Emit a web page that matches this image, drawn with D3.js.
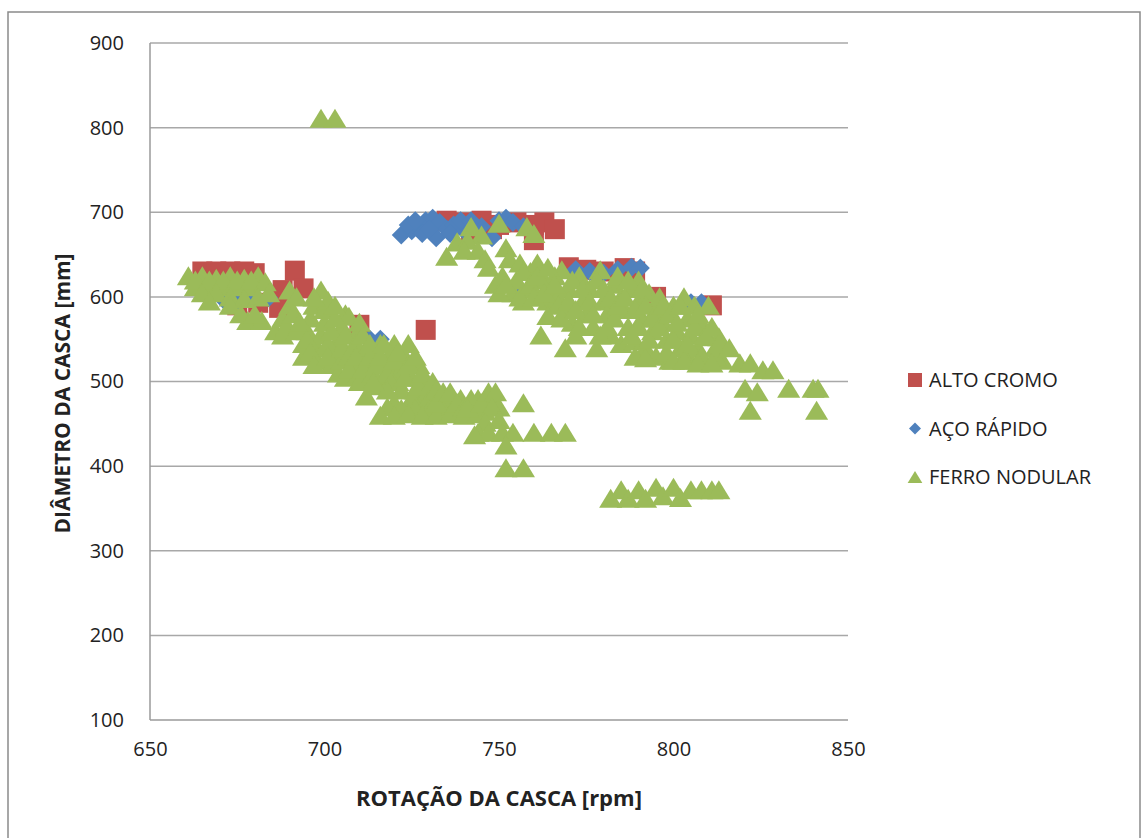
<!DOCTYPE html>
<html>
<head>
<meta charset="utf-8">
<script src="https://cdn.jsdelivr.net/npm/d3@7"></script>
<style>
  body { margin: 0; background: #fff; }
  text { font-family: "Open Sans", Lato, sans-serif; fill: #222; }
</style>
</head>
<body>
<script>
var xTicks = [650, 700, 750, 800, 850];
var yTicks = [100, 200, 300, 400, 500, 600, 700, 800, 900];
var seriesNames = ["ALTO CROMO", "AÇO RÁPIDO", "FERRO NODULAR"];

// [rpm, diametro]
var altoCromo = [
  [665,630],[669,630],[673,630],[677,630],[680,628],[691.5,631],
  [688,608],[694,610],[687,587],[675,590],[681,593],[710,567],[729,561],
  [735,690],[740,688],[745,690],[750,685],[755,688],[760,685],[763,688],[766,680],
  [742,678],[748,680],[760,667],
  [770,635],[775,632],[780,630],[786,634],[789,630],[795,600],[811,590]
];

var acoRapido = [
  [671,597],[675,592],[680,598],[684,599],[713,550],[716,550],
  [722,673],[725,678],[727,683],[729,690],[731,693],[733,688],[735,680],[737,685],
  [740,678],[745,683],[750,690],[752,693],[754,688],[757,683],[748,670],
  [724,685],[728,675],[732,670],[736,675],[739,690],[742,690],[726,690],[730,680],
  [755.5,600],[764.6,600],
  [772,632],[776,630],[780,628],[784,632],[788,635],[790.5,634],[805,593],[808,593]
];

var ferroNodular = [
  // grupo esquerdo
  [661,625],[665,625],[669,622],[673,625],[677,622],[681,625],
  [663,612],[667,612],[671,612],[675,612],[679,612],
  [663,620],[667,620],[671,620],[675,620],[679,620],[683,618],
  [665,605],[669,605],[673,600],[677,598],[681,600],[684,605],
  [667,595],[673,590],[678,572],[682,572],[676,580],[680,580],
  [699,811],[703,811],
  // faixa diagonal
  [686,560],[688,575],[690,590],[690,608],[692,600],[688,555],
  [694,530],[694,545],[695,560],[696,575],[697,590],[698,525],[698,540],[699,555],
  [700,570],[700,585],[701,596],[699,608],
  [702,520],[703,535],[704,550],[705,565],[706,580],[707,577],[704,510],[706,505],
  [708,520],[708,540],[709,555],[710,570],[710,510],
  [711,525],[712,540],[713,505],[714,520],[715,535],[716,545],[717,505],[718,520],
  [719,535],[720,545],[712,483],[715,495],
  [721,500],[722,515],[723,530],[724,545],[725,505],[726,490],[727,520],[728,478],
  [729,500],[730,490],[720,475],[724,470],
  [689,565],[691,580],[692,560],[693,570],[695,550],[696,535],[697,520],[697,600],
  [701,545],[701,530],[702,560],[703,575],[703,590],[705,525],[705,540],[706,555],
  [707,515],[707,530],[709,545],[709,530],[710,500],[711,515],[711,555],[713,530],
  [713,545],[714,510],[715,520],[716,530],[717,545],[718,510],[719,500],[720,525],
  [721,535],[722,490],[723,505],[724,520],[725,480],[726,530],[727,495],[728,510],
  [729,470],[730,480],[731,500],[732,490],[733,470],[735,478],[737,470],[739,480],
  [742,470],[744,480],[746,465],[748,480],[750,470],[718,470],[722,468],[726,468],
  [730,468],[734,466],[738,466],[718,490],[714,500],
  [716,460],[720,460],[724,462],[728,460],[732,460],[736,462],[740,460],[744,462],
  [732,475],[734,488],[736,488],[738,475],[740,470],[742,480],[741,469],[745,475],
  [747,488],[749,488],[748,470],[750,455],[746,452],
  [744,440],[747,440],[751,440],[754,440],[760,440],[765,440],[769,440],[743,437],
  [752,425],[752,398],[757,398],[757,475],
  // grupo direito
  [738,665],[742,683],[745,673],[750,687],[758,683],[735,648],[741,667],[760,675],
  [744,655],[746,645],[740,655],
  [747,635],[749,615],[751,625],[752,658],[753,645],[754,605],[755,620],[756,640],[757,595],
  [758,610],[759,630],[761,640],[762,600],[763,620],[764,595],[762,555],[765,610],[764,578],
  [766,625],[768,632],[767,600],[769,585],[770,610],[771,570],[769,540],[772,555],
  [773,625],[774,595],[775,580],
  [776,610],[777,565],[778,540],[779,632],[780,595],[781,580],[782,555],[783,615],
  [784,625],[785,545],[785,600],
  [786,585],[787,565],[788,610],[789,548],[790,620],[790,595],[791,575],[792,540],
  [793,605],[794,560],[795,585],[795,530],
  [796,600],[797,570],[798,550],[799,525],[800,590],[801,560],[802,540],[803,600],
  [804,575],[805,525],[805,555],
  [806,590],[807,540],[808,570],[809,525],[810,553],[810,590],[812,540],[813,553],[814,525],
  [750,605],[752,615],[756,600],[757,630],[759,615],[760,600],[761,625],[763,605],
  [764,635],[766,615],[767,590],[768,575],[770,595],[771,620],[772,585],[773,565],
  [774,610],[776,595],[777,580],[778,620],[779,555],[780,610],[781,565],[782,600],
  [783,575],[784,590],[786,600],[787,620],[788,555],[789,585],[790,565],[791,610],
  [792,590],[793,550],[794,575],[796,565],[797,590],[798,535],[799,580],[800,550],
  [801,570],[802,590],[803,530],[804,545],[806,565],[807,580],[808,530],[809,555],
  [811,565],[812,530],[813,545],[789,530],[792,528],[800,525],[803,525],[807,522],[811,522],
  [816,540],[819,522],[822,522],[825.6,514],[828.5,514],[820.5,492],[824,488],[822,466],
  [833,492],[840,492],[841.4,492],[841,466],
  // grupo inferior
  [782,362],[785,372],[787,362],[790,372],[792,362],[795,375],[797,365],[800,375],
  [802,363],[805,372],[808,372],[811,372],[813,372]
];

var colors = ["#C0504D", "#4F81BD", "#9BBB59"];

var W = 1145, H = 838;
var plot = {left: 150, right: 848, top: 43, bottom: 720};

var svg = d3.select("body").append("svg")
    .attr("width", W)
    .attr("height", H);

svg.append("rect")
    .attr("x", 8).attr("y", 12)
    .attr("width", 1132).attr("height", 850)
    .attr("fill", "#fff")
    .attr("stroke", "#8a8a8a")
    .attr("stroke-width", 1.5);

var x = d3.scaleLinear().domain([650, 850]).range([plot.left, plot.right]);
var y = d3.scaleLinear().domain([100, 900]).range([plot.bottom, plot.top]);

// grid lines
svg.append("g")
    .selectAll("line")
    .data(yTicks)
    .enter()
    .append("line")
    .attr("x1", plot.left).attr("x2", plot.right)
    .attr("y1", function(d) { return y(d); })
    .attr("y2", function(d) { return y(d); })
    .attr("stroke", function(d) { return d === 100 ? "#9a9a9a" : "#a8a8a8"; })
    .attr("stroke-width", 1.5);

// y axis line
svg.append("line")
    .attr("x1", plot.left).attr("x2", plot.left)
    .attr("y1", plot.top).attr("y2", plot.bottom)
    .attr("stroke", "#9a9a9a")
    .attr("stroke-width", 1.5);

var yAxis = svg.append("g")
    .attr("transform", "translate(" + plot.left + ",0)")
    .call(d3.axisLeft(y).tickValues(yTicks).tickSize(0).tickPadding(26));
var xAxis = svg.append("g")
    .attr("transform", "translate(0," + plot.bottom + ")")
    .call(d3.axisBottom(x).tickValues(xTicks).tickSize(0).tickPadding(22));
[yAxis, xAxis].forEach(function(a) {
  a.select(".domain").remove();
  a.selectAll("text").style("font-size", "20px").style("fill", "#222")
    .style("font-family", "'Open Sans', sans-serif");
});

// marker shapes
function shapePath(i, s) {
  if (i === 0) return "M" + (-s) + "," + (-s) + "h" + (2 * s) + "v" + (2 * s) + "h" + (-2 * s) + "Z";
  if (i === 1) return "M0," + (-s) + "L" + s + ",0L0," + s + "L" + (-s) + ",0Z";
  var h = s * 1.73;
  return "M0," + (-h / 2) + "L" + (s * 1.05) + "," + (h / 2) + "L" + (-s * 1.05) + "," + (h / 2) + "Z";
}
var sizes = [10, 9.5, 11];

[altoCromo, acoRapido, ferroNodular].forEach(function(data, i) {
  svg.append("g")
      .selectAll("path")
      .data(data)
      .enter()
      .append("path")
      .attr("d", shapePath(i, sizes[i]))
      .attr("transform", function(d) { return "translate(" + x(d[0]) + "," + y(d[1]) + ")"; })
      .attr("fill", colors[i]);
});

// axis titles
svg.append("text")
    .attr("x", (plot.left + plot.right) / 2)
    .attr("y", 806)
    .attr("text-anchor", "middle")
    .style("font-size", "22px")
    .style("font-weight", "bold")
    .text("ROTAÇÃO DA CASCA [rpm]");

svg.append("text")
    .attr("transform", "translate(70," + ((plot.top + plot.bottom) / 2 + 12) + ") rotate(-90)")
    .attr("text-anchor", "middle")
    .style("font-size", "21px")
    .style("font-weight", "bold")
    .text("DIÂMETRO DA CASCA [mm]");

// legend
var legend = svg.append("g")
    .selectAll("g")
    .data(seriesNames)
    .enter()
    .append("g")
    .attr("transform", function(d, i) { return "translate(915," + (380 + i * 48.5) + ")"; });

legend.append("path")
    .attr("d", function(d, i) { return shapePath(i, [7, 6, 7][i]); })
    .attr("fill", function(d, i) { return colors[i]; });

legend.append("text")
    .attr("x", 14)
    .attr("dy", "0.35em")
    .style("font-size", "20px")
    .text(function(d) { return d; });
</script>
</body>
</html>
